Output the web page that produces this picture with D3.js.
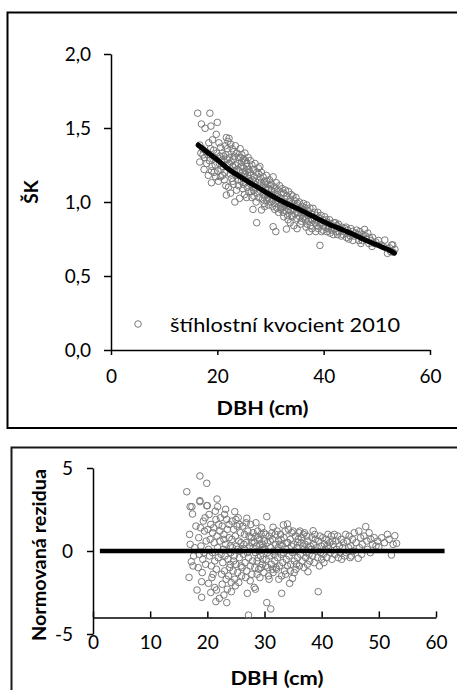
<!DOCTYPE html>
<html><head><meta charset="utf-8">
<script src="https://cdn.jsdelivr.net/npm/d3@7"></script>
<style>
body{margin:0;background:#fff;}
svg{display:block;font-family:Lato,"Open Sans",sans-serif;}
</style></head><body>
<svg id="c" width="457" height="690"></svg>
<script>
// ---- data ----
const xTicks = [0, 20, 40, 60];
const yTicksTop = [0, 0.5, 1.0, 1.5, 2.0];
const xTicksBottom = [0, 10, 20, 30, 40, 50, 60];
const yTicksBottom = [-5, 0, 5];
const legendLabel = "štíhlostní kvocient 2010";
const xTitle = "DBH (cm)";
const yTitleTop = "ŠK";
const yTitleBottom = "Normovaná rezidua";

// fitted curve of the slenderness ratio
const fitCurve = [[16.4,1.385],[18,1.34],[20,1.285],[22,1.225],[25,1.155],[28,1.09],[30,1.047],[33,0.99],[35,0.957],[38,0.903],[40,0.867],[43,0.82],[45,0.79],[48,0.74],[50,0.71],[52,0.68],[53.3,0.655]];

// observed slenderness ratio 2010 [DBH, SK]
const slenderness = [
[16.3,1.60],[17.0,1.527],[17.7,1.498],[16.7,1.385],[17.3,1.318],[16.7,1.27],[17.2,1.36],[17.6,1.30],[17.9,1.34],[16.9,1.33],[17.5,1.22],[18.0,1.26],
[18.6,1.60],[18.8,1.513],[19.8,1.457],[20.0,1.538],[18.3,1.18],[18.9,1.13],[18.4,1.40],[18.7,1.36],[19.1,1.42],[19.3,1.35],[19.5,1.30],[18.5,1.28],[19.0,1.24],[19.4,1.20],[19.7,1.17],[19.9,1.33],[19.2,1.29],[18.2,1.32],[19.6,1.25],[18.9,1.21],
[21.7,1.435],[20.3,1.40],[20.6,1.37],[20.9,1.33],[21.2,1.31],[21.5,1.38],[21.8,1.29],[20.4,1.26],[20.7,1.22],[21.0,1.18],[21.3,1.15],[21.6,1.11],[21.7,1.047],[20.2,1.14],[20.5,1.31],[21.1,1.24],[21.4,1.20],[21.9,1.25],[20.8,1.28],[21.9,1.36],[20.1,1.21],[21.3,1.27],[20.6,1.17],[21.6,1.32],[22.0,1.41],
[22.2,1.43],[22.5,1.39],[22.8,1.36],[23.1,1.34],[23.4,1.38],[23.7,1.33],[22.3,1.30],[22.6,1.27],[22.9,1.24],[23.2,1.21],[23.5,1.18],[23.8,1.15],[22.4,1.19],[22.7,1.16],[23.0,1.12],[23.3,1.0],[24.2,1.025],[23.6,1.08],[22.1,1.10],[22.5,1.06],[23.9,1.26],[23.0,1.29],[22.8,1.21],[23.4,1.25],[24.0,1.30],[23.7,1.22],[22.2,1.26],[24.0,1.11],[23.2,1.31],[22.9,1.14],
[24.3,1.36],[24.6,1.32],[24.9,1.29],[25.2,1.33],[25.5,1.26],[25.8,1.30],[24.4,1.24],[24.7,1.20],[25.0,1.17],[25.3,1.13],[25.6,1.10],[25.9,1.07],[24.5,1.14],[24.8,1.09],[25.1,1.05],[25.4,1.21],[25.7,1.18],[24.2,1.18],[24.6,1.27],[25.0,1.23],[25.3,1.28],[25.9,1.22],[24.9,1.12],[25.5,1.03],[26.0,1.14],[24.1,1.21],[25.8,1.16],[24.4,1.30],[25.2,1.19],[25.6,1.24],
[26.2,1.28],[26.5,1.25],[26.8,1.22],[27.1,1.26],[27.4,1.20],[27.7,1.23],[26.3,1.18],[26.6,1.15],[26.9,1.12],[27.2,1.09],[27.5,1.06],[27.8,1.03],[26.7,0.95],[27.4,0.86],[28.3,0.946],[26.4,1.07],[26.9,1.04],[27.3,1.00],[27.9,1.15],[26.1,1.20],[26.6,1.10],[27.0,1.17],[27.6,1.13],[28.0,1.08],[26.3,1.12],[27.8,1.19],[26.8,1.08],[27.2,1.14],[28.0,1.24],[26.5,1.03],
[28.3,1.20],[28.6,1.17],[28.9,1.14],[29.2,1.18],[29.5,1.12],[29.8,1.15],[28.4,1.10],[28.7,1.07],[29.0,1.04],[29.3,1.01],[29.6,0.98],[29.9,1.05],[28.5,1.02],[28.8,0.99],[29.1,1.09],[29.4,1.06],[29.7,1.09],[28.2,1.13],[29.0,1.12],[29.8,1.02],[28.6,1.05],[29.5,1.03],[30.0,1.11],[28.9,0.97],[29.3,1.14],
[30.5,1.17],[30.2,1.12],[30.8,1.10],[31.1,1.13],[31.4,1.08],[31.7,1.11],[30.3,1.05],[30.6,1.02],[30.9,0.99],[31.2,0.96],[31.5,0.93],[31.8,1.03],[30.5,0.833],[31.0,0.80],[30.4,0.97],[30.7,1.07],[31.3,1.05],[31.6,1.00],[32.0,1.06],[30.1,1.00],[31.9,0.98],[30.8,0.95],[31.4,1.01],[32.0,0.95],[30.2,1.08],
[32.2,1.09],[32.5,1.06],[32.8,1.08],[33.1,1.04],[33.4,1.07],[33.7,1.02],[32.3,1.00],[32.6,0.97],[32.9,0.94],[33.2,0.91],[33.5,0.97],[33.8,0.94],[33.0,0.817],[32.4,0.93],[33.3,0.88],[33.6,1.00],[34.0,0.99],[32.7,1.02],[32.1,0.96],[33.9,1.05],[32.9,0.99],[33.4,0.95],[34.0,0.91],[32.5,0.90],[33.7,0.86],
[34.2,1.04],[34.5,1.01],[34.8,1.03],[35.1,0.99],[35.4,1.00],[35.7,0.96],[34.3,0.95],[34.6,0.92],[34.9,0.89],[35.2,0.93],[35.5,0.90],[35.8,0.87],[34.4,0.84],[35.0,0.82],[36.0,0.97],[34.7,0.97],[35.3,0.95],[35.9,0.92],[34.1,0.90],[35.6,0.85],[36.0,0.89],[34.9,0.98],
[36.2,0.99],[36.5,0.96],[36.8,0.98],[37.1,0.94],[37.4,0.96],[37.7,0.92],[36.3,0.90],[36.6,0.88],[36.9,0.85],[37.2,0.87],[37.5,0.84],[37.8,0.82],[36.4,0.93],[37.0,0.91],[37.6,0.89],[38.0,0.957],[36.1,0.94],[37.3,0.80],[36.7,0.83],[37.9,0.88],
[38.3,0.93],[38.6,0.91],[38.9,0.93],[39.2,0.89],[39.5,0.91],[39.8,0.88],[38.4,0.86],[38.7,0.84],[39.0,0.82],[39.3,0.85],[39.6,0.80],[39.3,0.707],[38.2,0.89],[38.8,0.87],[39.4,0.86],[40.0,0.84],[38.5,0.80],[39.9,0.81],
[40.2,0.90],[40.5,0.88],[40.8,0.86],[41.1,0.88],[41.4,0.85],[41.7,0.83],[40.3,0.83],[40.6,0.80],[40.9,0.82],[41.2,0.79],[41.5,0.81],[41.8,0.78],[40.4,0.86],[41.0,0.84],[41.9,0.86],
[42.2,0.86],[42.5,0.84],[42.8,0.85],[43.1,0.82],[43.4,0.83],[43.7,0.80],[42.3,0.80],[42.6,0.78],[42.9,0.80],[43.3,0.77],[43.6,0.78],[44.0,0.82],[42.0,0.82],
[44.2,0.83],[44.5,0.81],[44.8,0.79],[45.1,0.82],[45.4,0.80],[45.7,0.77],[44.3,0.76],[44.7,0.75],[45.0,0.77],[45.5,0.74],[46.0,0.79],[46.2,0.81],
[46.5,0.78],[46.8,0.80],[47.1,0.76],[47.4,0.78],[47.7,0.815],[46.6,0.74],[47.0,0.72],[47.3,0.74],[47.9,0.77],[48.0,0.75],
[48.3,0.79],[48.6,0.76],[48.9,0.74],[49.2,0.76],[49.5,0.72],[49.8,0.73],[48.5,0.72],[49.1,0.70],
[50.3,0.74],[50.8,0.71],[51.5,0.743],[51.2,0.70],[52.0,0.653],[52.4,0.69],[52.8,0.71],[53.0,0.71],[53.4,0.68],[53.1,0.66],[52.6,0.665]
];

// normalised residuals [DBH, r]
const residuals = [
[16.4,3.57],[17.0,2.67],[17.4,2.23],[17.3,2.67],[16.8,-1.59],[17.2,-0.64],[17.0,0.4],[17.5,-0.9],[17.8,0.2],[16.9,1.0],[17.6,-0.3],[18.0,1.5],
[18.7,4.52],[19.9,4.08],[18.7,3.03],[19.9,2.73],[18.7,2.97],[20.0,2.73],[18.2,-2.35],[19.0,-2.79],[19.0,-1.85],[18.5,0.8],[18.9,0.3],[19.2,-0.5],[19.5,1.2],[18.4,-1.0],[19.7,-0.8],[19.3,1.8],[18.6,-0.2],[19.8,0.6],[19.1,-1.3],[19.6,2.0],[18.8,1.4],[19.4,-0.1],
[20.2,-1.95],[21.6,-2.35],[21.5,-3.05],[21.7,3.13],[21.8,2.67],[20.3,2.2],[20.6,1.6],[20.9,1.1],[21.2,0.5],[21.5,1.9],[21.8,0.2],[20.4,-0.3],[20.7,-0.9],[21.0,-1.4],[21.3,-0.6],[21.6,-1.1],[20.5,0.7],[21.1,1.4],[21.4,2.4],[20.8,-1.6],[21.9,-0.4],[20.1,1.3],[21.3,-2.2],[20.6,-2.5],[21.7,0.9],[20.9,-0.1],[22.0,1.6],[20.2,0.1],
[22.1,-2.85],[22.9,-2.65],[23.4,-3.11],[23.2,2.51],[22.3,2.0],[22.6,1.5],[22.9,1.0],[23.2,0.4],[23.5,1.3],[23.8,0.8],[22.4,-0.2],[22.7,-0.7],[23.0,-1.2],[23.3,-1.7],[23.6,-0.5],[23.9,-1.0],[22.2,0.6],[22.8,0.1],[23.1,-0.3],[23.4,1.9],[23.7,-1.5],[22.5,-1.4],[23.0,2.2],[24.0,0.3],[22.6,-2.0],[23.8,1.6],[22.2,1.2],[23.5,-2.3],[24.0,-0.8],[22.9,0.7],
[24.8,2.37],[24.2,-2.45],[24.2,-1.9],[24.3,1.8],[24.6,1.3],[24.9,0.9],[25.2,1.5],[25.5,0.6],[25.8,1.1],[24.4,0.2],[24.7,-0.3],[25.0,-0.8],[25.3,-1.3],[25.6,-0.4],[25.9,-0.9],[24.5,-1.2],[24.8,-1.7],[25.1,0.3],[25.4,2.0],[25.7,0.0],[26.0,-1.5],[24.3,0.7],[25.0,1.9],[25.6,1.6],[24.6,-0.6],[25.3,0.1],[25.9,0.5],[24.9,-2.1],[25.5,-1.9],[24.1,-0.1],
[26.9,1.97],[27.0,-2.55],[28.2,-2.19],[28.4,-2.3],[27.2,-3.86],[26.2,1.5],[26.5,1.0],[26.8,0.5],[27.1,1.2],[27.4,0.3],[27.7,0.8],[26.3,-0.2],[26.6,-0.7],[26.9,-1.2],[27.2,-0.4],[27.5,-0.9],[27.8,-1.4],[26.4,0.4],[27.0,-0.1],[27.6,1.6],[28.0,0.2],[26.7,-1.6],[27.3,0.9],[27.9,-0.6],[26.1,-1.0],[28.0,1.1],[26.5,0.1],[27.5,-1.8],[26.8,1.7],[27.8,0.5],
[28.5,1.7],[28.8,1.2],[29.1,0.7],[29.4,1.0],[29.7,0.4],[28.4,-0.1],[28.7,-0.6],[29.0,-1.1],[29.3,-0.3],[29.6,-0.8],[29.9,-1.3],[28.6,0.3],[28.9,0.8],[29.2,-1.6],[29.5,1.4],[29.8,0.1],[28.3,-1.0],[29.0,0.0],[29.7,-0.5],[28.5,0.9],[29.4,-1.0],[30.0,0.6],[28.9,-0.4],[29.6,0.2],[28.2,0.5],[29.9,1.1],[29.2,0.4],[28.7,-1.4],
[30.4,2.07],[31.5,1.43],[30.4,-3.11],[31.1,-3.49],[30.2,1.0],[30.5,0.5],[30.8,0.9],[31.1,0.2],[31.4,0.7],[31.7,-0.2],[30.3,-0.5],[30.6,-1.0],[30.9,-0.3],[31.2,-0.8],[31.5,-1.3],[31.8,-0.6],[30.1,0.1],[30.7,-1.5],[31.3,1.1],[31.9,0.4],[30.5,-0.1],[31.0,0.6],[31.6,0.0],[32.0,-1.0],[30.8,-1.7],[31.4,-1.1],[30.2,-0.9],[31.9,1.0],
[33.3,1.57],[34.0,1.63],[33.0,-2.55],[32.2,1.2],[32.5,0.6],[32.8,1.0],[33.1,0.3],[33.4,0.8],[33.7,0.1],[32.3,-0.4],[32.6,-0.9],[32.9,-0.2],[33.2,-0.7],[33.5,-1.2],[33.8,-0.5],[32.4,0.2],[33.0,-1.5],[33.6,1.2],[32.1,-1.1],[33.9,0.5],[32.7,0.4],[33.3,-0.1],[34.0,-0.9],[32.5,-1.7],[33.7,-1.4],[32.9,0.7],
[34.4,-1.95],[34.9,-1.65],[34.2,1.3],[34.5,0.7],[34.8,1.1],[35.1,0.4],[35.4,0.9],[35.7,0.2],[34.3,-0.3],[34.6,-0.8],[34.9,-0.1],[35.2,-0.6],[35.5,-1.1],[35.8,-0.4],[34.7,0.3],[35.0,1.2],[35.3,0.0],[35.9,0.7],[34.1,0.5],[35.6,-0.8],[36.0,1.1],[35.2,-1.3],[34.5,-1.2],[35.8,0.5],
[37.6,-1.25],[36.2,1.2],[36.5,0.8],[36.8,1.0],[37.1,0.4],[37.4,0.9],[37.7,0.2],[36.3,-0.2],[36.6,-0.6],[36.9,0.1],[37.2,-0.4],[37.5,-0.8],[37.8,-0.2],[36.4,0.5],[37.0,1.1],[37.6,0.6],[38.0,0.3],[36.1,-0.9],[37.3,-0.1],[36.7,0.3],[37.9,-0.6],[36.9,-1.0],
[38.5,1.22],[39.4,-2.45],[38.3,0.8],[38.6,0.4],[38.9,0.7],[39.2,0.2],[39.5,0.6],[39.8,-0.1],[38.4,-0.3],[38.7,-0.7],[39.0,0.0],[39.3,-0.4],[39.6,-0.9],[39.9,0.3],[38.2,0.1],[38.8,1.0],[39.7,0.9],[40.0,-0.5],
[40.2,0.8],[40.5,0.4],[40.8,0.7],[41.1,1.0],[41.4,0.5],[41.7,0.9],[40.3,-0.2],[40.6,0.1],[40.9,-0.4],[41.2,0.2],[41.5,-0.1],[41.8,-0.5],[40.4,-0.7],[41.0,0.3],[41.9,0.6],
[42.2,1.0],[42.5,0.6],[42.8,0.9],[43.1,0.3],[43.4,0.7],[43.7,0.2],[42.3,-0.2],[42.6,0.1],[42.9,-0.4],[43.2,-0.1],[43.5,-0.5],[43.8,0.5],[42.0,0.4],[44.0,-0.3],
[44.2,1.0],[44.5,0.6],[44.8,0.9],[45.1,0.3],[45.4,0.7],[45.7,1.1],[44.3,-0.1],[44.7,0.2],[45.0,-0.4],[45.5,0.0],[46.0,0.5],[45.2,-0.3],
[46.4,-0.44],[47.7,1.47],[46.5,1.2],[46.8,0.8],[47.1,0.4],[47.4,0.9],[46.6,0.2],[47.0,-0.2],[47.9,0.6],[48.0,0.1],
[48.3,1.1],[48.6,0.7],[48.9,0.4],[49.2,0.8],[49.5,0.3],[49.8,0.6],[48.5,-0.1],[50.0,0.24],
[50.5,0.8],[51.0,0.5],[51.5,1.0],[52.2,-0.24],[52.8,0.92],[53.1,0.46],[51.8,0.7],[52.5,0.4]
];
const zeroLine = [[1.2,0],[61.5,0]];
const bottomAxisCross = -4;

// ---- drawing ----
const svg = d3.select("#c");
const FONT = 19;
const markerColor = "#7a7a7a";
const fmt = d => d.toFixed(1).replace(".", ",");

// panel frames
svg.append("rect").attr("x",7.5).attr("y",12.5).attr("width",470).attr("height",415.5)
  .attr("fill","none").attr("stroke","#000").attr("stroke-width",2);
svg.append("rect").attr("x",11.5).attr("y",447.5).attr("width",470).attr("height",280)
  .attr("fill","none").attr("stroke","#1a1a1a").attr("stroke-width",2);

// ===== top chart =====
const xT = d3.scaleLinear().domain([0,60]).range([111,430]);
const yT = d3.scaleLinear().domain([0,2]).range([350,54]);
const gTop = svg.append("g");

const gyT = gTop.append("g").attr("transform","translate(111,0)")
  .call(d3.axisLeft(yT).tickValues(yTicksTop).tickFormat(fmt).tickSize(7).tickSizeOuter(0).tickPadding(13));
const gxT = gTop.append("g").attr("transform","translate(0,350)")
  .call(d3.axisBottom(xT).tickValues(xTicks).tickFormat(d=>String(d)).tickSize(5).tickSizeOuter(0).tickPadding(15));
[gyT,gxT].forEach(g=>{
  g.selectAll("path,line").attr("stroke","#000").attr("stroke-width",1.5);
  g.selectAll("text").attr("font-size",FONT).attr("fill","#000").attr("font-family","Lato,'Open Sans',sans-serif");
});

gTop.append("g").selectAll("circle").data(slenderness).join("circle")
  .attr("cx",d=>xT(d[0])).attr("cy",d=>yT(d[1])).attr("r",3.3)
  .attr("fill","none").attr("stroke",markerColor).attr("stroke-width",1);

gTop.append("path").datum(fitCurve)
  .attr("d",d3.line().x(d=>xT(d[0])).y(d=>yT(d[1])).curve(d3.curveMonotoneX))
  .attr("fill","none").attr("stroke","#000").attr("stroke-width",5).attr("stroke-linecap","round");

// legend
gTop.append("circle").attr("cx",138).attr("cy",324).attr("r",3.3)
  .attr("fill","none").attr("stroke",markerColor).attr("stroke-width",1);
gTop.append("text").attr("x",170).attr("y",331.5).attr("font-size",FONT)
  .attr("textLength",230).attr("lengthAdjust","spacingAndGlyphs").text(legendLabel);

// titles
gTop.append("text").attr("x",262.5).attr("y",415).attr("text-anchor","middle")
  .attr("font-size",FONT).attr("font-weight","bold")
  .attr("textLength",92).attr("lengthAdjust","spacingAndGlyphs").text(xTitle);
gTop.append("text").attr("transform","translate(38,192) rotate(-90)").attr("text-anchor","middle")
  .attr("font-size",FONT).attr("font-weight","bold").text(yTitleTop);

// ===== bottom chart =====
const xB = d3.scaleLinear().domain([0,60]).range([93,436]);
const yB = d3.scaleLinear().domain([-5,5]).range([634,468]);
const gBot = svg.append("g");

const gyB = gBot.append("g").attr("transform","translate(93,0)")
  .call(d3.axisLeft(yB).tickValues(yTicksBottom).tickFormat(d=>String(d)).tickSize(6).tickSizeOuter(0).tickPadding(14));
const gxB = gBot.append("g").attr("transform",`translate(0,${yB(bottomAxisCross)})`)
  .call(d3.axisBottom(xB).tickValues(xTicksBottom).tickFormat(d=>String(d)).tickSize(-6).tickSizeOuter(0).tickPadding(18));
[gyB,gxB].forEach(g=>{
  g.selectAll("path,line").attr("stroke","#000").attr("stroke-width",1.5);
  g.selectAll("text").attr("font-size",FONT).attr("fill","#000").attr("font-family","Lato,'Open Sans',sans-serif");
});

gBot.append("g").selectAll("circle").data(residuals).join("circle")
  .attr("cx",d=>xB(d[0])).attr("cy",d=>yB(d[1])).attr("r",3.3)
  .attr("fill","none").attr("stroke",markerColor).attr("stroke-width",1);

gBot.append("path").datum(zeroLine)
  .attr("d",d3.line().x(d=>xB(d[0])).y(d=>yB(d[1])))
  .attr("fill","none").attr("stroke","#000").attr("stroke-width",4.5);

gBot.append("text").attr("x",277).attr("y",685).attr("text-anchor","middle")
  .attr("font-size",FONT).attr("font-weight","bold")
  .attr("textLength",93).attr("lengthAdjust","spacingAndGlyphs").text(xTitle);
gBot.append("text").attr("transform","translate(46,555) rotate(-90)").attr("text-anchor","middle")
  .attr("font-size",FONT).attr("font-weight","bold")
  .attr("textLength",172).attr("lengthAdjust","spacingAndGlyphs").text(yTitleBottom);
</script>
</body></html>
